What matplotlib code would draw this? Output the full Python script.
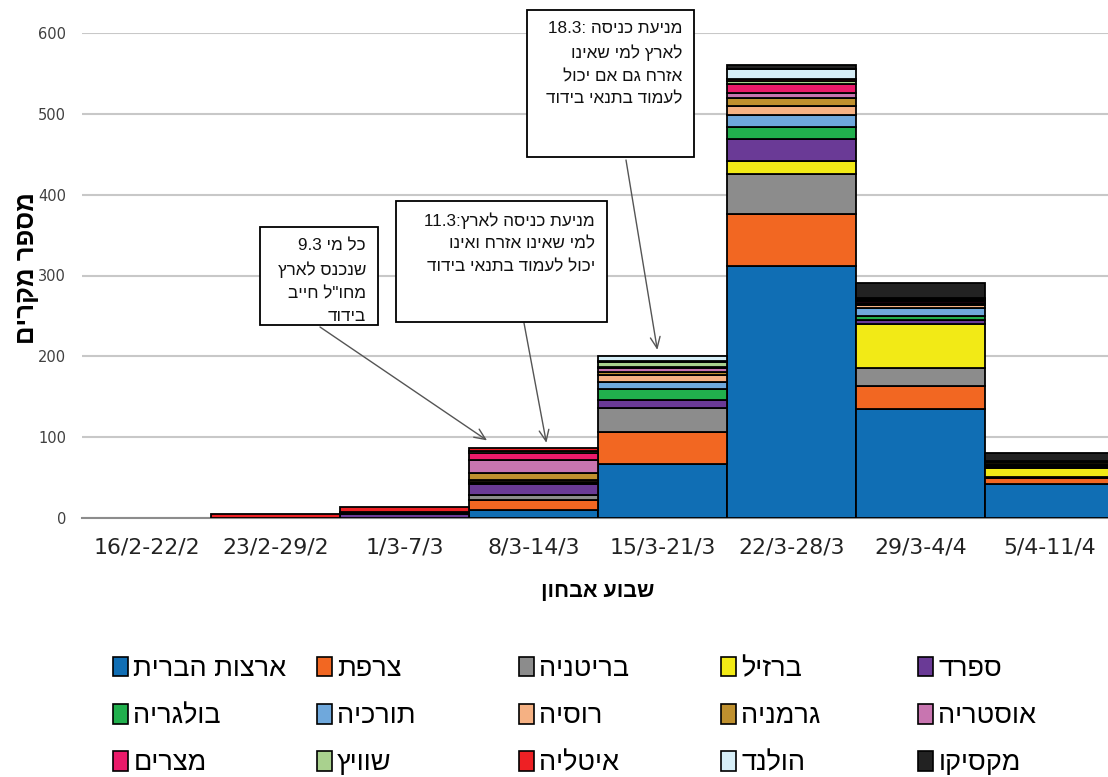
import re
import numpy as np
import matplotlib
matplotlib.use("Agg")
import matplotlib.pyplot as plt
from matplotlib.patches import Patch, Rectangle

# --- data --------------------------------------------------------------
weeks = ["16/2-22/2", "23/2-29/2", "1/3-7/3", "8/3-14/3",
         "15/3-21/3", "22/3-28/3", "29/3-4/4", "5/4-11/4"]

countries = ["ארצות הברית", "צרפת", "בריטניה", "ברזיל", "ספרד",
             "בולגריה", "תורכיה", "רוסיה", "גרמניה", "אוסטריה",
             "מצרים", "שוויץ", "איטליה", "הולנד", "מקסיקו"]

usa = [0, 0, 0, 10, 67, 312, 135, 42]
france = [0, 0, 0, 12, 39, 64, 28, 7]
britain = [0, 0, 0, 6, 30, 49, 23, 2]
brazil = [0, 0, 0, 0, 0, 17, 54, 11]
spain = [0, 0, 5, 14, 10, 27, 5, 1]
bulgaria = [0, 0, 0, 1, 13, 15, 5, 1]
turkey = [0, 0, 0, 1, 9, 14, 10, 2]
russia = [0, 0, 0, 3, 9, 12, 3, 1]
germany = [0, 0, 1, 9, 4, 10, 2, 2]
austria = [0, 0, 1, 16, 4, 6, 1, 0]
egypt = [0, 0, 1, 8, 2, 11, 3, 1]
swiss = [0, 0, 0, 3, 6, 4, 1, 0]
italy = [0, 5, 5, 4, 1, 2, 1, 0]
netherlands = [0, 0, 0, 0, 6, 12, 1, 0]
mexico = [0, 0, 0, 0, 0, 6, 19, 10]

series = [usa, france, britain, brazil, spain, bulgaria, turkey, russia,
          germany, austria, egypt, swiss, italy, netherlands, mexico]

colors = ["#106EB4", "#F26722", "#8C8C8C", "#F2EA16", "#6A3A96",
          "#21B04D", "#6FA8DC", "#F5B183", "#BF902E", "#C875B0",
          "#EB1A6A", "#A9D18E", "#EE2024", "#D6EEF7", "#222222"]

notes = [
    ["9.3 כל מי", "שנכנס לארץ", "מחו\"ל חייב", "בידוד"],
    ["11.3:מניעת כניסה לארץ", "למי שאינו אזרח ואינו", "יכול לעמוד בתנאי בידוד"],
    ["18.3: מניעת כניסה", "לארץ למי שאינו", "אזרח גם אם יכול", "לעמוד בתנאי בידוד"],
]

HEB = ["Liberation Sans", "DejaVu Sans"]


def visual(s):
    # matplotlib has no bidi support: put Hebrew runs in display order
    m = re.match(r"^([\d.]+:?\s*)(.*)$", s)
    if m:
        return m.group(1) + m.group(2)[::-1]
    return s[::-1]


W, H = 1108, 777
fig = plt.figure(figsize=(W / 100, H / 100), dpi=100)
ax = fig.add_axes([82 / W, 1 - 518 / H, 1032 / W, 485 / H])

x = np.arange(len(weeks))
bottom = np.zeros(len(weeks))
for vals, col in zip(series, colors):
    vals = np.array(vals, dtype=float)
    edges = ["black" if v > 0 else "none" for v in vals]
    ax.bar(x, vals, width=1.0, bottom=bottom, color=col,
           edgecolor=edges, linewidth=1.3, zorder=3)
    bottom += vals

ax.set_xlim(-0.5, len(weeks) - 0.5)
ax.set_ylim(0, 600)
ax.set_yticks(range(0, 601, 100))
ax.grid(axis="y", color="#C8C8C8", linewidth=1.5, zorder=0)
ax.tick_params(axis="y", length=0, pad=11.5, labelsize=10.5, labelcolor="#404040")
ax.tick_params(axis="x", length=0, pad=14, labelsize=15.8, labelcolor="#222222")
ax.set_xticks(x)
ax.set_xticklabels(weeks)
for side in ["left", "right", "top"]:
    ax.spines[side].set_visible(False)
ax.spines["bottom"].set_color("#8C8C8C")
ax.spines["bottom"].set_linewidth(1.5)

ax.set_xlabel(visual("שבוע אבחון"), family=HEB, fontsize=15.5,
              fontweight="bold", labelpad=17)
ax.set_ylabel(visual("מספר מקרים"), family=HEB, fontsize=18.5,
              fontweight="bold")
ax.yaxis.set_label_coords(-0.042, 0.515)

# annotation boxes (image pixel coords: left, top, right, bottom)
boxes = [(260, 227, 378, 325), (396, 201, 607, 322), (527, 10, 694, 157)]
tails = [(320, 327), (524, 323), (626, 160)]
heads = [(2.64, 96), (3.10, 93), (3.96, 208)]

for lines, (l, t, r, b), tail, head in zip(notes, boxes, tails, heads):
    fig.patches.append(Rectangle((l / W, 1 - b / H), (r - l) / W, (b - t) / H,
                                 transform=fig.transFigure, facecolor="white",
                                 edgecolor="black", linewidth=1.3, zorder=5))
    fig.text((r - 12) / W, 1 - (t + 11) / H, "\n".join(visual(s) for s in lines),
             family=HEB, fontsize=12.3, ha="right", va="top",
             linespacing=1.64, color="#111111", zorder=6)
    ax.annotate("", xy=head, xycoords="data",
                xytext=(tail[0], H - tail[1]), textcoords="figure pixels",
                arrowprops=dict(arrowstyle="->,head_length=0.8,head_width=0.35",
                                color="#555555", lw=1.0, shrinkA=0, shrinkB=0),
                zorder=4)

# legend: 5 columns x 3 rows, read row by row
col_x = [113, 317, 519, 721, 918]
for c in range(5):
    idx = [r * 5 + c for r in range(3)]
    handles = [Patch(facecolor=colors[i], edgecolor="black", linewidth=1.2)
               for i in idx]
    labels = [visual(countries[i]) for i in idx]
    fig.legend(handles, labels, loc="upper left",
               bbox_to_anchor=(col_x[c] / W, 1 - 656 / H),
               frameon=False, borderpad=0, borderaxespad=0,
               handlelength=0.55, handleheight=0.75, handletextpad=0.2,
               labelspacing=0.78, prop={"family": HEB, "size": 19.5})

fig.savefig("out.png", dpi=100)
